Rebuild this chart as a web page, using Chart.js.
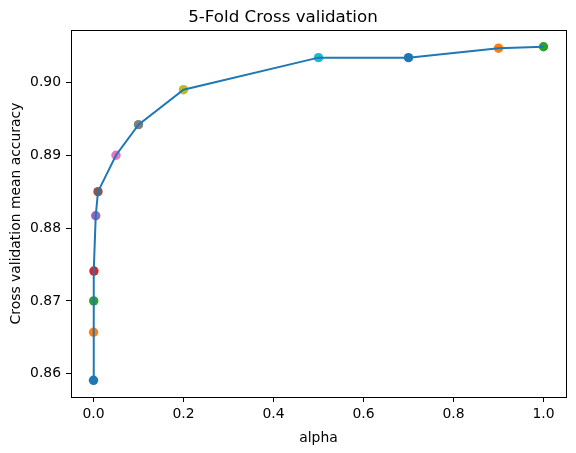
<!DOCTYPE html>
<html lang="en">
<head>
  <meta charset="UTF-8">
  <title>5-Fold Cross validation</title>
  <script src="https://cdn.jsdelivr.net/npm/chart.js"></script>
  <style>
    html, body { margin: 0; padding: 0; background: #fff; }
    #wrap { width: 576px; height: 453px; }
  </style>
</head>
<body>
<div id="wrap"><canvas id="cvChart" width="576" height="453"></canvas></div>

<script>
  // === Données ===
  const alphas = [0.00001, 0.0001, 0.0005, 0.001, 0.005, 0.01, 0.05, 0.1, 0.2, 0.5, 0.7, 0.9, 1.0];
  const accuracy = [0.8591, 0.8657, 0.8700, 0.8741, 0.8817, 0.8850, 0.8900, 0.8942, 0.8990, 0.9034, 0.9034, 0.9047, 0.9049];
  const xTicks = [0.0, 0.2, 0.4, 0.6, 0.8, 1.0];
  const yTicks = [0.86, 0.87, 0.88, 0.89, 0.90];

  const tab10 = ["#1f77b4", "#ff7f0e", "#2ca02c", "#d62728", "#9467bd",
                 "#8c564b", "#e377c2", "#7f7f7f", "#bcbd22", "#17becf"];
  const pointColors = alphas.map((_, i) => tab10[i % tab10.length]);

  const pts = alphas.map((a, i) => ({ x: a, y: accuracy[i] }));

  // marges à 5 % comme matplotlib
  const yMinD = Math.min(...accuracy), yMaxD = Math.max(...accuracy);
  const yPad = (yMaxD - yMinD) * 0.05;
  const xPad = (Math.max(...alphas) - Math.min(...alphas)) * 0.05;

  const font = { family: "'DejaVu Sans', sans-serif", size: 13.9 };

  // cadre complet autour de la zone de tracé
  const frame = {
    id: "frame",
    afterDraw(chart) {
      const { ctx, chartArea: a } = chart;
      ctx.save();
      ctx.strokeStyle = "#000";
      ctx.lineWidth = 1;
      ctx.strokeRect(Math.round(a.left) + 0.5, Math.round(a.top) + 0.5,
                     Math.round(a.right - a.left), Math.round(a.bottom - a.top));
      ctx.restore();
    }
  };

  new Chart(document.getElementById("cvChart"), {
    type: "scatter",
    data: {
      datasets: [
        {
          type: "line",
          data: pts,
          borderColor: "#1f77b4",
          borderWidth: 2,
          pointRadius: 0,
          fill: false,
          order: 0
        },
        {
          data: pts,
          backgroundColor: pointColors,
          borderColor: pointColors,
          pointRadius: 4.7,
          borderWidth: 0,
          order: 1
        }
      ]
    },
    options: {
      responsive: false,
      animation: false,
      layout: { padding: { left: 0, right: 10, top: 0, bottom: 0 } },
      plugins: {
        legend: { display: false },
        tooltip: { enabled: false },
        title: {
          display: true,
          text: "5-Fold Cross validation",
          color: "#000",
          font: { family: font.family, size: 16.7, weight: "normal" },
          padding: { top: 8, bottom: 2 }
        }
      },
      scales: {
        x: {
          type: "linear",
          min: Math.min(...alphas) - xPad,
          max: Math.max(...alphas) + xPad,
          afterBuildTicks: s => { s.ticks = xTicks.map(v => ({ value: v })); },
          afterFit: s => { s.height = 56; },
          ticks: {
            color: "#000", font: font, padding: 4, maxRotation: 0,
            callback: v => v.toFixed(1)
          },
          grid: { drawOnChartArea: false, drawTicks: true, tickLength: 5, color: "#000" },
          border: { display: true, color: "#000" },
          title: { display: true, text: "alpha", color: "#000", font: font, padding: { top: 2, bottom: 6 } }
        },
        y: {
          type: "linear",
          min: yMinD - yPad,
          max: yMaxD + yPad,
          afterBuildTicks: s => { s.ticks = yTicks.map(v => ({ value: v })); },
          afterFit: s => { s.width = 71; },
          ticks: {
            color: "#000", font: font, padding: 5,
            callback: v => v.toFixed(2)
          },
          grid: { drawOnChartArea: false, drawTicks: true, tickLength: 5, color: "#000" },
          border: { display: true, color: "#000" },
          title: { display: true, text: "Cross validation mean accuracy", color: "#000", font: font, padding: { top: 8, bottom: 2 } }
        }
      }
    },
    plugins: [frame]
  });
</script>
</body>
</html>
